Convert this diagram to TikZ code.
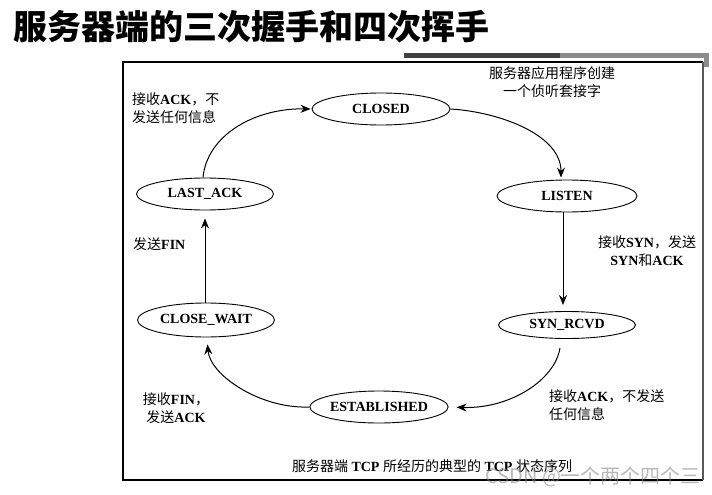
\documentclass[tikz,border=0pt]{standalone}
\usepackage{fontspec}
\setmainfont{Liberation Serif}
\newfontfamily\cjk{Noto Sans CJK SC}
\newcommand\zh[1]{{\cjk\mdseries #1}}
\usetikzlibrary{arrows.meta,shapes.geometric}
\definecolor{bardark}{HTML}{3F3F3F}
\definecolor{barlight}{HTML}{8C8C8C}
\begin{document}
\begin{tikzpicture}[x=1pt,y=-1pt,
  state/.style={draw, ellipse, line width=0.9pt, inner sep=0pt,
    font=\fontsize{14}{16}\selectfont\bfseries},
  lbl/.style={inner sep=0pt, font=\fontsize{14}{17.5}\selectfont\bfseries},
  arr/.style={line width=1pt, -{Stealth[length=10pt,width=8pt]}},
]
\useasboundingbox (0,0) rectangle (712,495);
\fill[white] (0,0) rectangle (712,495);

% title
\node[inner sep=0pt, font=\fontsize{34}{40}\selectfont\cjk\bfseries] (title) at (251,27) {服务器端的三次握手和四次挥手};

% grey bar
\fill[bardark] (404,53) rectangle (560,58);
\fill[barlight] (560,53) rectangle (709,58);
\fill[barlight] (704,53) rectangle (709,67);

% frame
\draw[line width=1.1pt] (703,62) -- (123,62) -- (123,480) -- (703,480);
\draw[line width=1.1pt, gray!70!black] (703,62) -- (703,480);

% states
\node[state, minimum width=138pt, minimum height=32pt] (closed) at (381,109) {CLOSED};
\node[state, minimum width=140pt, minimum height=32pt] (listen) at (567,196) {LISTEN};
\node[state, minimum width=137pt, minimum height=27pt] (synrcvd) at (567,325) {SYN\_RCVD};
\node[state, minimum width=136pt, minimum height=32pt] (estab) at (379,407) {ESTABLISHED};
\node[state, minimum width=137pt, minimum height=34pt] (closewait) at (206,320) {CLOSE\_WAIT};
\node[state, minimum width=137pt, minimum height=32pt] (lastack) at (205,194) {LAST\_ACK};

% connectors
\draw[arr, shorten >=2pt] (closed.east) .. controls (500,112) and (561,135) .. ([xshift=-6pt]listen.north);
\draw[arr, shorten >=6pt] ([xshift=-4pt]listen.south) -- ([xshift=-4pt]synrcvd.north);
\draw[arr, shorten >=8pt] ([xshift=-7pt,yshift=-9pt]synrcvd.south) .. controls (555,380) and (510,409) .. (estab.east);
\draw[arr, shorten >=7pt] (estab.west) .. controls (260,409) and (210,375) .. ([xshift=1pt]closewait.south);
\draw[arr, shorten >=8pt] ([xshift=-1pt]closewait.north) -- ([xshift=0pt]lastack.south);
\draw[arr, shorten >=1pt] ([xshift=-2pt]lastack.north) .. controls (207,135) and (255,108) .. (closed.west);

% labels
\node[lbl, align=left, anchor=west] (l1) at (132,108) {\zh{接收}ACK\zh{，不}\\\zh{发送任何信息}};
\node[lbl, align=center] (l2) at (552,82) {\zh{服务器应用程序创建}\\\zh{一个侦听套接字}};
\node[lbl, align=center] (l3) at (647,251) {\zh{接收}SYN\zh{，发送}\\SYN\zh{和}ACK};
\node[lbl, anchor=west] (l4) at (133,244) {\zh{发送}FIN};
\node[lbl, align=center] (l5) at (176,408) {\zh{接收}FIN\zh{，}\\\zh{发送}ACK};
\node[lbl, align=left, anchor=west] (l6) at (549,405) {\zh{接收}ACK\zh{，不发送}\\\zh{任何信息}};
\node[lbl] (cap) at (432,466) {\zh{服务器端} TCP \zh{所经历的典型的} TCP \zh{状态序列}};

% watermark
\node[inner sep=0pt, anchor=west, text=gray, opacity=0.55, font=\fontsize{20}{24}\selectfont\cjk] (wm) at (485,477) {CSDN @一个两个四个三};
\end{tikzpicture}
\end{document}
